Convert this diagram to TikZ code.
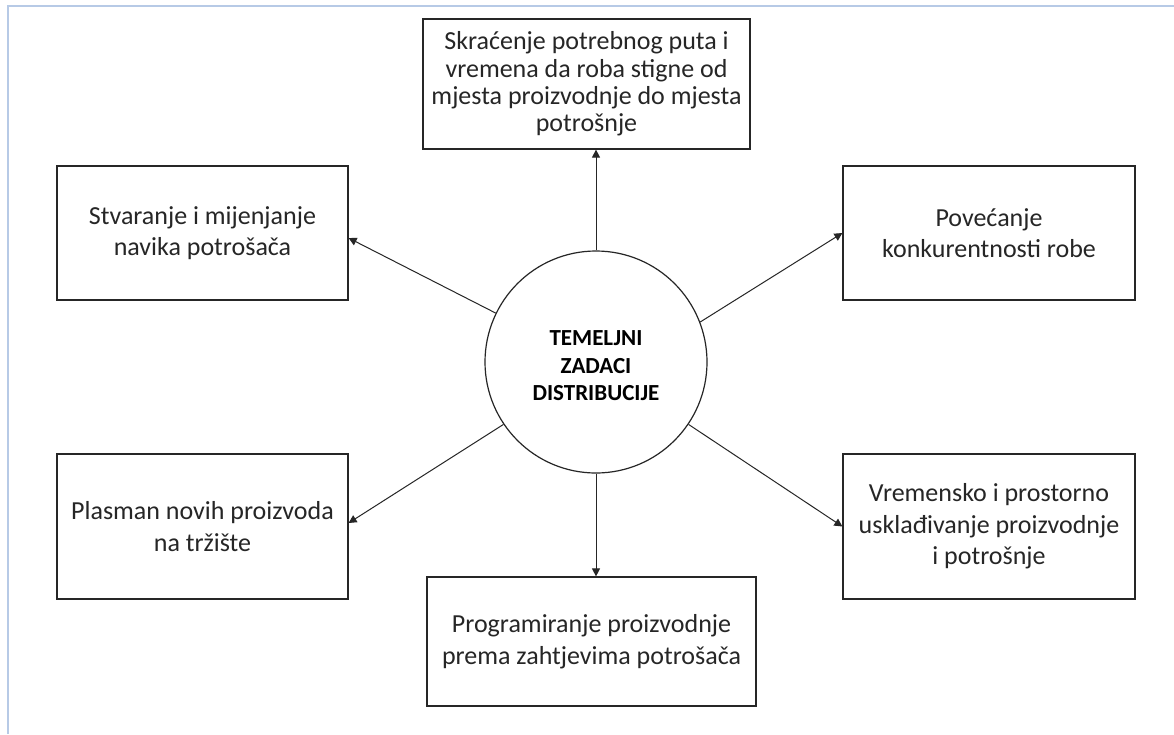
\documentclass[tikz,border=0pt]{standalone}
\usepackage{fontspec}
\setmainfont{Carlito}
\usetikzlibrary{arrows.meta}
\definecolor{framecol}{HTML}{B7CAE6}
\definecolor{ink}{HTML}{262626}
\begin{document}
\begin{tikzpicture}[x=1pt,y=-1pt,
  txtbox/.style={draw=ink, line width=1.2pt, inner sep=0pt, align=center,
    text=ink, font=\fontsize{26}{31.5}\selectfont},
  hub/.style={circle, draw=ink, line width=1.2pt, minimum size=222pt, inner sep=0pt},
  hubtext/.style={inner sep=0pt, align=center, text=black,
    font=\fontsize{23}{27.5}\selectfont\bfseries},
  link/.style={draw=ink, line width=1pt, -{Triangle[length=8pt,width=8pt]}}]
\useasboundingbox (0,0) rectangle (1174,734);
\fill[white] (0,0) rectangle (1174,734);
\draw[framecol, line width=2pt] (7.5,734) -- (7.5,6) -- (1174,6);

\node[hub] (c) at (596,362) {};
\node[hubtext] (ct) at (596,366) {TEMELJNI\\ZADACI\\DISTRIBUCIJE};

\node[txtbox, minimum width=327pt, minimum height=130pt,
  font=\fontsize{26}{27.3}\selectfont] (top) at (586.5,84)
  {Skraćenje potrebnog puta i\\vremena da roba stigne od\\mjesta proizvodnje do mjesta\\potrošnje};
\node[txtbox, minimum width=291pt, minimum height=134pt] (ul) at (202.5,233)
  {Stvaranje i mijenjanje\\navika potrošača};
\node[txtbox, minimum width=292pt, minimum height=134pt] (ur) at (989,233)
  {Povećanje\\konkurentnosti robe};
\node[txtbox, minimum width=291pt, minimum height=145pt] (ll) at (202.5,526.5)
  {Plasman novih proizvoda\\na tržište};
\node[txtbox, minimum width=292pt, minimum height=145pt] (lr) at (989,526.5)
  {Vremensko i prostorno\\usklađivanje proizvodnje\\i potrošnje};
\node[txtbox, minimum width=329pt, minimum height=129pt] (bot) at (591.5,641.5)
  {Programiranje proizvodnje\\prema zahtjevima potrošača};

\draw[link] (c.north) -- (c.north |- top.south);
\draw[link] (c.south) -- (c.south |- bot.north);
\draw[link] (c.154.6) -- ([yshift=-5pt]ul.east);
\draw[link] (c.21.2) -- (ur.west);
\draw[link] (c.214.7) -- ([yshift=3.5pt]ll.east);
\draw[link] (c.326.2) -- (lr.west);
\end{tikzpicture}
\end{document}
